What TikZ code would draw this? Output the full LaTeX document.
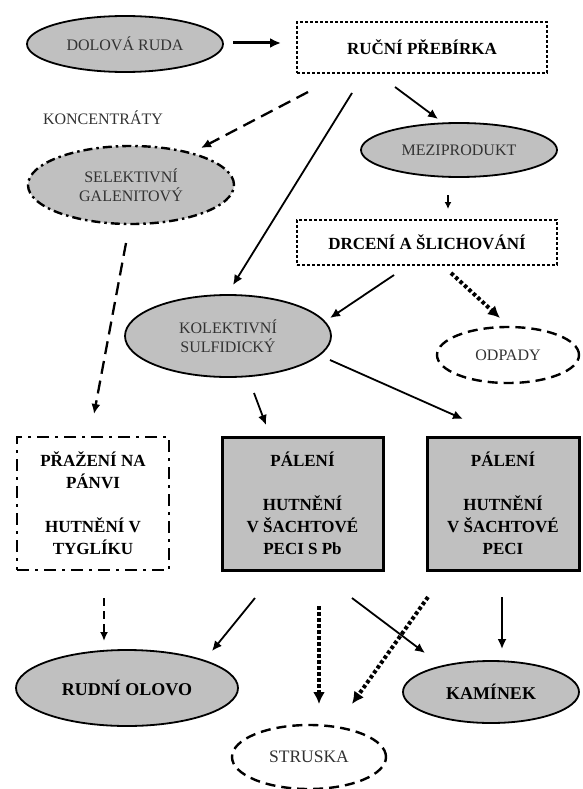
\documentclass[tikz,border=0pt]{standalone}
\usepackage{fontspec}
\setmainfont{Liberation Serif}
\usetikzlibrary{shapes.geometric,arrows.meta}
\definecolor{fillgray}{RGB}{192,192,192}
\definecolor{txtgray}{RGB}{50,50,50}
\begin{document}
\begin{tikzpicture}[x=1pt,y=-1pt,
  regt/.style={font=\fontsize{16}{19}\selectfont, text=txtgray},
  boldt/.style={font=\fontsize{17}{22}\selectfont\bfseries, text=black},
  bigt/.style={font=\fontsize{18}{22}\selectfont\bfseries, text=black},
  ell/.style={ellipse, draw, fill=fillgray, line width=1.8pt, inner sep=0pt, align=center},
  dotbox/.style={rectangle, draw, line width=2.6pt, dash pattern=on 2.6pt off 2.4pt, inner sep=0pt, align=center},
  dashdotbox/.style={rectangle, draw, line width=2.8pt, dash pattern=on 12pt off 6pt on 3pt off 6pt, inner sep=0pt, align=center},
  palbox/.style={rectangle, draw, fill=fillgray, line width=3pt, inner sep=0pt, align=center},
  dashline/.style={dash pattern=on 10pt off 6pt, line width=2.4pt},
  dashdotline/.style={dash pattern=on 9pt off 4pt on 2.5pt off 4pt, line width=2.4pt},
  arr/.style={-{Latex[length=10pt,width=9pt]}, line width=1.8pt},
  thickarr/.style={-{Latex[length=11pt,width=10pt]}, line width=3pt},
  dasharr/.style={-{Latex[length=10pt,width=9pt]}, line width=2.3pt, dash pattern=on 13pt off 7pt},
  sdasharr/.style={-{Latex[length=9pt,width=8pt]}, line width=2.3pt, dash pattern=on 8pt off 5pt},
  dotarr/.style={-{Latex[length=12pt,width=12pt]}, line width=4pt, dash pattern=on 3.5pt off 2.5pt},
  lbl/.style={inner sep=0pt}
]
\useasboundingbox (0,0) rectangle (582,789);

% nodes
\node[ell, regt, minimum width=196, minimum height=56] (dol) at (125,44) {DOLOVÁ RUDA};
\node[dotbox, boldt, minimum width=250, minimum height=51] (ruc) at (422,47.5) {RUČNÍ PŘEBÍRKA};
\node[lbl, regt] (kon) at (103,118) {KONCENTRÁTY};
\node[ell, regt, dashdotline, minimum width=206, minimum height=78] (sel) at (131,185) {SELEKTIVNÍ\\GALENITOVÝ};
\node[ell, regt, minimum width=196, minimum height=54] (mez) at (459,150) {MEZIPRODUKT};
\node[dotbox, boldt, minimum width=260, minimum height=45] (drc) at (427,242.5) {DRCENÍ A ŠLICHOVÁNÍ};
\node[ell, regt, minimum width=206, minimum height=82] (kol) at (228,336) {KOLEKTIVNÍ\\SULFIDICKÝ};
\node[ell, regt, dashline, fill=white, minimum width=142, minimum height=56] (odp) at (508,355) {ODPADY};
\node[dashdotbox, boldt, minimum width=152, minimum height=133] (pra) at (93,503.5) {PŘAŽENÍ NA\\PÁNVI\\[22pt]HUTNĚNÍ V\\TYGLÍKU};
\node[palbox, boldt, minimum width=161, minimum height=133] (pal1) at (302.5,503.5) {PÁLENÍ\\[22pt]HUTNĚNÍ\\V ŠACHTOVÉ\\PECI S Pb};
\node[palbox, boldt, minimum width=152, minimum height=133] (pal2) at (503,503.5) {PÁLENÍ\\[22pt]HUTNĚNÍ\\V ŠACHTOVÉ\\PECI};
\node[ell, bigt, minimum width=222, minimum height=76] (rud) at (127,688) {RUDNÍ OLOVO};
\node[ell, bigt, minimum width=176, minimum height=62] (kam) at (491,692) {KAMÍNEK};
\node[ell, regt, font=\fontsize{17.5}{20}\selectfont, dashline, fill=white, minimum width=154, minimum height=64] (str) at (309,757) {STRUSKA};

% connector end points
\coordinate (c1s) at (233,43);   \coordinate (c1e) at (281,43);
\coordinate (c2s) at (308,92);   \coordinate (c2e) at (201,148);
\coordinate (c3s) at (352,93);   \coordinate (c3e) at (233,285);
\coordinate (c4s) at (395,87);   \coordinate (c4e) at (438,119);
\coordinate (c5s) at (448,195);  \coordinate (c5e) at (448,209);
\coordinate (c6s) at (126,243);  \coordinate (c6e) at (94,414);
\coordinate (c7s) at (394,275);  \coordinate (c7e) at (330,318);
\coordinate (c8s) at (451,273);  \coordinate (c8e) at (500,318);
\coordinate (c9s) at (254,393);  \coordinate (c9e) at (266,425);
\coordinate (c10s) at (330,360); \coordinate (c10e) at (463,419);
\coordinate (c11s) at (104,598); \coordinate (c11e) at (104,641);
\coordinate (c12s) at (255,598); \coordinate (c12e) at (212,651);
\coordinate (c13s) at (319,606); \coordinate (c13e) at (319,704);
\coordinate (c14s) at (352,598); \coordinate (c14e) at (425,653);
\coordinate (c15s) at (428,597); \coordinate (c15e) at (352,704);
\coordinate (c16s) at (502,597); \coordinate (c16e) at (502,649);

% connectors
\draw[thickarr] (c1s) -- (c1e);
\draw[dasharr] (c2s) -- (c2e);
\draw[arr] (c3s) -- (c3e);
\draw[arr] (c4s) -- (c4e);
\draw[arr, line width=1.5pt, -{Latex[length=7pt,width=7pt]}] (c5s) -- (c5e);
\draw[dasharr] (c6s) -- (c6e);
\draw[arr] (c7s) -- (c7e);
\draw[dotarr] (c8s) -- (c8e);
\draw[arr] (c9s) -- (c9e);
\draw[arr] (c10s) -- (c10e);
\draw[sdasharr] (c11s) -- (c11e);
\draw[arr] (c12s) -- (c12e);
\draw[dotarr] (c13s) -- (c13e);
\draw[arr] (c14s) -- (c14e);
\draw[dotarr] (c15s) -- (c15e);
\draw[arr] (c16s) -- (c16e);
\end{tikzpicture}
\end{document}
